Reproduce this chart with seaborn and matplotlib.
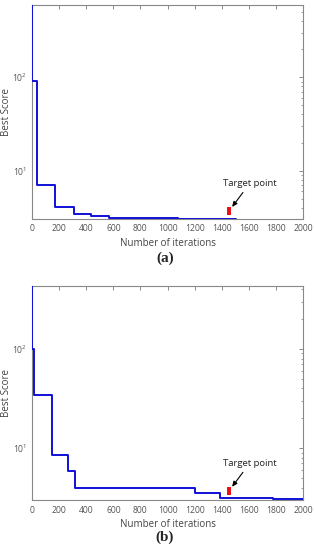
import numpy as np
import pandas as pd
import seaborn as sns
import matplotlib.pyplot as plt

# convergence curves (step changes of the best score)
iter_a = [0, 1, 35, 170, 310, 433, 566, 1080, 1503]
score_a = [1000, 91, 7.08, 4.07, 3.48, 3.24, 3.12, 3.07, 3.07]

iter_b = [0, 1, 12, 150, 268, 320, 539, 1200, 1387, 1776, 1916, 2000]
score_b = [1000, 100, 34.6, 8.59, 5.88, 4.01, 3.92, 3.49, 3.16, 3.09, 3.04, 3.04]

# target points
target_a = (1452, 3.67)
target_b = (1452, 3.68)

ylims = [(3.05, 590), (3.0, 430)]
captions = ["(a)", "(b)"]

sns.set_theme(style="white")
plt.rcParams["font.family"] = ["Open Sans", "DejaVu Sans"]
plt.rcParams["mathtext.fontset"] = "dejavusans"

fig = plt.figure(figsize=(3.14, 5.5), dpi=100)
ax_a = fig.add_axes([0.102, 0.602, 0.863, 0.3885])
ax_b = fig.add_axes([0.102, 0.0909, 0.863, 0.389])

rect = [(-0.5, -1), (0.5, -1), (0.5, 1), (-0.5, 1), (-0.5, -1)]
line_col = "#1010d8"
gray = "#555555"

datasets = [(ax_a, iter_a, score_a, target_a), (ax_b, iter_b, score_b, target_b)]
for i, (ax, it, sc, tgt) in enumerate(datasets):
    df = pd.DataFrame({"iter": it, "score": sc})
    sns.lineplot(data=df, x="iter", y="score", ax=ax, drawstyle="steps-post",
                 color=line_col, lw=1.4, estimator=None, sort=False, zorder=3)
    ax.set_yscale("log")
    ax.set_xlim(0, 2000)
    ax.set_ylim(*ylims[i])
    ax.set_xticks(np.arange(0, 2001, 200))
    ax.plot([tgt[0]], [tgt[1]], marker=rect, markersize=5.8, color="#ee1111",
            markeredgewidth=0, linestyle="none")
    ax.annotate("Target point", xy=tgt, xytext=(15, 20), textcoords="offset points",
                ha="center", va="center", fontsize=6.8, color="#222222",
                arrowprops=dict(arrowstyle="-|>,head_length=0.45,head_width=0.2",
                                color="black", lw=0.8, shrinkA=1, shrinkB=4))
    ax.set_xlabel("Number of iterations", fontsize=7, color="#444444", labelpad=3)
    ax.set_ylabel("Best Score", fontsize=7, color="#444444", labelpad=0)
    ax.tick_params(axis="both", which="both", direction="in", top=True, right=True,
                   labelsize=6.2, labelcolor=gray, color="#777777")
    ax.tick_params(axis="x", pad=4)
    ax.tick_params(which="major", length=3, width=0.6)
    ax.tick_params(which="minor", length=1.6, width=0.5)
    for s in ax.spines.values():
        s.set_color("#888888")
        s.set_linewidth(0.8)

fig.text(0.525, 0.531, captions[0], ha="center", va="center", fontsize=11,
         fontweight="bold", family="Liberation Serif")
fig.text(0.525, 0.024, captions[1], ha="center", va="center", fontsize=11,
         fontweight="bold", family="Liberation Serif")

fig.savefig("out.png", dpi=100)
